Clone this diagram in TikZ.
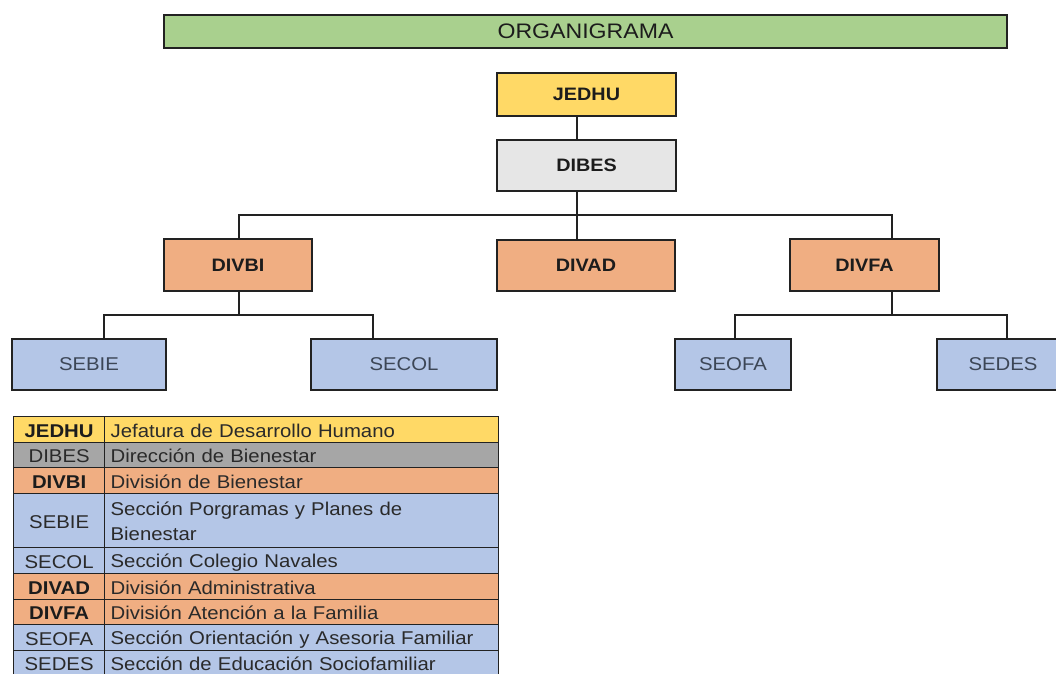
\documentclass[tikz,border=0pt]{standalone}
\usepackage{fontspec}
\setmainfont{Liberation Sans}[FakeStretch=1.1]
\usetikzlibrary{shadows}
\definecolor{cgreen}{HTML}{A9D08E}
\definecolor{cyellow}{HTML}{FFD966}
\definecolor{clgray}{HTML}{E6E6E6}
\definecolor{cdgray}{HTML}{A6A6A6}
\definecolor{corange}{HTML}{F0AE82}
\definecolor{cblue}{HTML}{B4C6E7}
\definecolor{cline}{HTML}{222222}
\definecolor{ctxt}{HTML}{1C1C1C}
\definecolor{cstxt}{HTML}{3C4656}
\definecolor{cltxt}{HTML}{2A2A2A}
\newcommand\lstrut{\rule[-2.5pt]{0pt}{20.5pt}}
\newcommand\lastrut{\rule[-5pt]{0pt}{15pt}}
\begin{document}
\begin{tikzpicture}[x=1pt,y=-1pt,
  orgbox/.style={draw=cline, line width=1.6pt, rectangle, inner sep=0pt,
    drop shadow={shadow xshift=1.2pt, shadow yshift=-1.2pt, opacity=0.35}},
  headbox/.style={orgbox, font=\fontsize{18}{21}\selectfont\bfseries, text=ctxt},
  secbox/.style={orgbox, font=\fontsize{18.5}{21}\selectfont, text=cstxt},
  conn/.style={draw=cline, line width=1.6pt},
  cell/.style={draw=cline, line width=1.3pt, rectangle, inner ysep=0pt,
    font=\fontsize{18.5}{25}\selectfont, text=cltxt, execute at begin node=\lstrut},
  lastcell/.style={execute at begin node=\lastrut},
  abbr/.style={cell, anchor=north west, minimum width=91pt, inner xsep=0pt},
  babbr/.style={abbr, font=\fontsize{18.5}{25}\selectfont\bfseries, text=ctxt},
  desc/.style={cell, anchor=north west, text width=382pt, inner xsep=6pt, align=left}
]
\useasboundingbox (0,0) rectangle (1056,673);

% title
\node[orgbox, fill=cgreen, minimum width=843pt, minimum height=33pt,
      font=\fontsize{21}{24}\selectfont, text=ctxt] (title) at (585.5,31.5) {ORGANIGRAMA};

% chart nodes
\node[headbox, fill=cyellow, minimum width=179pt, minimum height=43pt] (jedhu) at (586.5,94.5) {JEDHU};
\node[headbox, fill=clgray,  minimum width=179pt, minimum height=51pt] (dibes) at (586.5,165.5) {DIBES};
\node[headbox, fill=corange, minimum width=148pt, minimum height=52pt] (divbi) at (238,265) {DIVBI};
\node[headbox, fill=corange, minimum width=178pt, minimum height=51pt] (divad) at (586,265.5) {DIVAD};
\node[headbox, fill=corange, minimum width=149pt, minimum height=52pt] (divfa) at (864.5,265) {DIVFA};
\node[secbox, fill=cblue, minimum width=154pt, minimum height=51pt] (sebie) at (89,364.5) {SEBIE};
\node[secbox, fill=cblue, minimum width=186pt, minimum height=51pt] (secol) at (404,364.5) {SECOL};
\node[secbox, fill=cblue, minimum width=116pt, minimum height=51pt] (seofa) at (733,364.5) {SEOFA};
\node[secbox, fill=cblue, minimum width=132pt, minimum height=51pt] (sedes) at (1003,364.5) {SEDES};

% connector guide coordinates
\coordinate (trunk) at (577,0);
\coordinate (fx) at (892,0);
\coordinate (bx) at (239,0);
\coordinate (bus1) at (0,215);
\coordinate (bus2) at (0,315);
\coordinate (lx1) at (104,0);
\coordinate (lx2) at (373,0);
\coordinate (rx1) at (735,0);
\coordinate (rx2) at (1007,0);

% connectors
\draw[conn] (jedhu.south -| trunk) -- (dibes.north -| trunk);
\draw[conn] (dibes.south -| trunk) -- (divad.north -| trunk);
\draw[conn] (divbi.north -| bx) -- (bus1 -| bx) -- (bus1 -| fx) -- (divfa.north -| fx);
\draw[conn] (divbi.south -| bx) -- (bus2 -| bx);
\draw[conn] (sebie.north -| lx1) -- (bus2 -| lx1) -- (bus2 -| lx2) -- (secol.north -| lx2);
\draw[conn] (divfa.south -| fx) -- (bus2 -| fx);
\draw[conn] (seofa.north -| rx1) -- (bus2 -| rx1) -- (bus2 -| rx2) -- (sedes.north -| rx2);

% legend table
\node[babbr, fill=cyellow, minimum height=26pt] (la1) at (13,416) {JEDHU};
\node[desc, fill=cyellow, minimum height=26pt] (lb1) at (104,416) {Jefatura de Desarrollo Humano};
\node[abbr, fill=cdgray, minimum height=25pt] (la2) at (13,442) {DIBES};
\node[desc, fill=cdgray, minimum height=25pt] (lb2) at (104,442) {Dirección de Bienestar};
\node[babbr, fill=corange, minimum height=26pt] (la3) at (13,467) {DIVBI};
\node[desc, fill=corange, minimum height=26pt] (lb3) at (104,467) {División de Bienestar};
\node[abbr, fill=cblue, minimum height=54pt] (la4) at (13,493) {SEBIE};
\node[desc, fill=cblue, minimum height=54pt] (lb4) at (104,493) {Sección Porgramas y Planes de\\\lstrut Bienestar};
\node[abbr, fill=cblue, minimum height=26pt] (la5) at (13,547) {SECOL};
\node[desc, fill=cblue, minimum height=26pt] (lb5) at (104,547) {Sección Colegio Navales};
\node[babbr, fill=corange, minimum height=26pt] (la6) at (13,573) {DIVAD};
\node[desc, fill=corange, minimum height=26pt] (lb6) at (104,573) {División Administrativa};
\node[babbr, fill=corange, minimum height=25pt] (la7) at (13,599) {DIVFA};
\node[desc, fill=corange, minimum height=25pt] (lb7) at (104,599) {División Atención a la Familia};
\node[abbr, fill=cblue, minimum height=26pt] (la8) at (13,624) {SEOFA};
\node[desc, fill=cblue, minimum height=26pt] (lb8) at (104,624) {Sección Orientación y Asesoria Familiar};
\node[abbr, lastcell, fill=cblue, minimum height=26pt] (la9) at (13,650) {SEDES};
\node[desc, lastcell, fill=cblue, minimum height=26pt] (lb9) at (104,650) {Sección de Educación Sociofamiliar};
\end{tikzpicture}
\end{document}
